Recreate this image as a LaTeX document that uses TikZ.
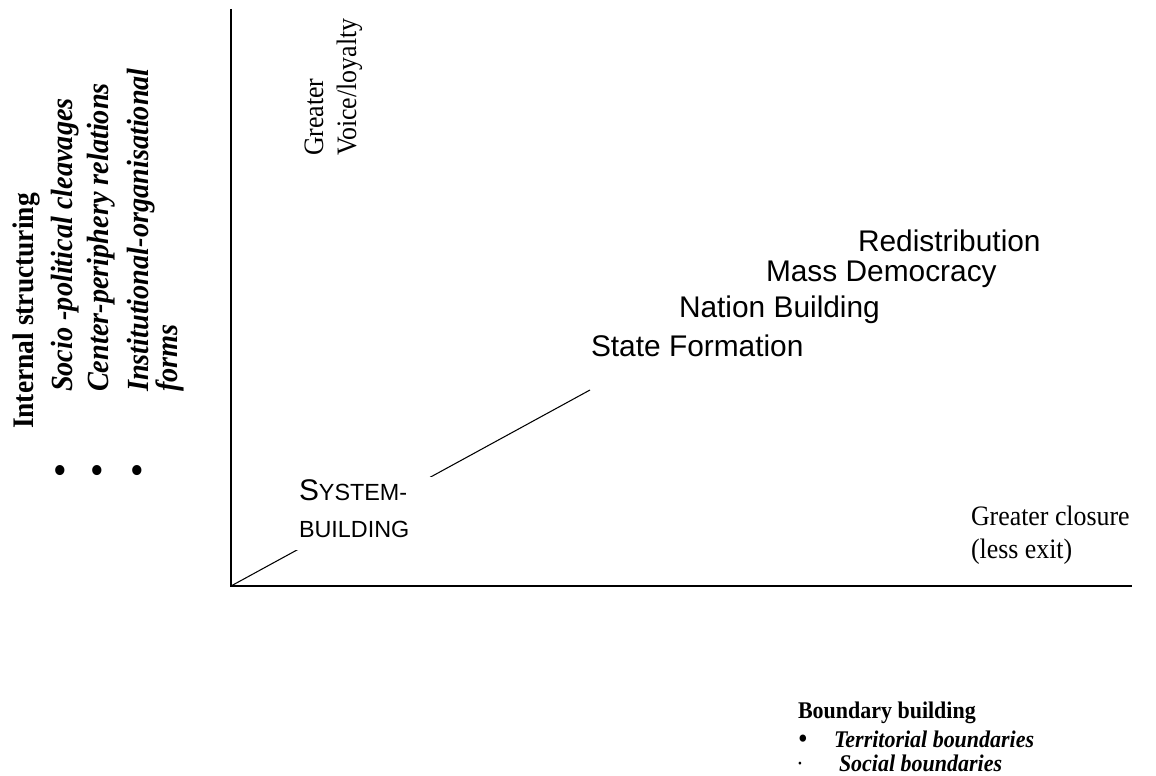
\documentclass[tikz,border=0pt]{standalone}
\usepackage{fontspec}
\setmainfont[FakeStretch=0.92]{Liberation Serif}
\setsansfont{Liberation Sans}
\usepackage{tikz}
\usetikzlibrary{calc}

\begin{document}
\begin{tikzpicture}[x=0.02cm,y=-0.02cm,line width=0.04cm]
%1 unit = 1 px of the page

   \tikzstyle{times}=[font=\fontsize{16}{22}\selectfont,inner sep=0pt,anchor=base west]
   \tikzstyle{vert}=[times,rotate=90]
   \tikzstyle{item}=[vert,font=\fontsize{17.5}{22}\selectfont]
   \tikzstyle{arial}=[font=\sffamily\fontsize{17}{21}\selectfont,inner sep=0pt,anchor=base west]
   \tikzstyle{small}=[font=\fontsize{13.6}{18}\selectfont,inner sep=0pt,anchor=base west]
   \tikzstyle{dot}=[font=\fontsize{24}{24}\selectfont,inner sep=0pt]
  \useasboundingbox (0,0) rectangle (1156,776);

  \coordinate (O) at (231,586);
  \coordinate (top) at (231,9);
  \coordinate (right) at (1132,586);
  \coordinate (E) at (590,390);

  \draw[line width=0.6pt] (O) -- (E);
  \draw (top) -- (O) -- (right);

  \node[fill=white,align=left,text width=2.64cm,inner xsep=0.16cm,inner ysep=0.06cm,
        text depth=0.92cm,anchor=north west,font=\sffamily\fontsize{17}{21}\selectfont]
        (sys) at (290,476) {S{\fontsize{13.3}{21}\selectfont YSTEM-}\\{\fontsize{13.3}{21}\selectfont BUILDING}};

  \node[arial] (state) at (590,357) {State Formation};
  \node[arial] (nation) at (678,318) {Nation Building};
  \node[arial] (mass) at (765,282) {Mass Democracy};
  \node[arial] (redis) at (857,252) {Redistribution};

  \node[vert] (greater) at (323,157) {Greater};
  \node[vert] (voice) at (356,157) {Voice/loyalty};

  \node[times] (closure) at (970,525) {Greater closure};
  \node[times] (exit) at (970,559) {(less exit)};

%left list
  \node[vert,font=\fontsize{17}{22}\selectfont] (intern) at (33,430) {\textbf{Internal structuring}};
  \node[dot] (b1) at (60,475) {\textbullet};
  \node[dot] (b2) at (97,475) {\textbullet};
  \node[dot] (b3) at (137,475) {\textbullet};
  \node[item] (socio) at (72,393) {\textbf{\textit{Socio -political cleavages}}};
  \node[item] (center) at (108,393) {\textbf{\textit{Center-periphery relations}}};
  \node[item] (instit) at (148,393) {\textbf{\textit{Institutional-organisational}}};
  \node[item] (forms) at (177,393) {\textbf{\textit{forms}}};

%bottom list
  \node[small] (bound) at (797,718) {\textbf{Boundary building}};
  \node[font=\fontsize{17}{17}\selectfont,inner sep=0pt] (b4) at (803,742) {\textbullet};
  \node[small] (terr) at (833,747) {\textbf{\textit{Territorial boundaries}}};
  \node[small,anchor=center] (b5) at (800,767) {\textperiodcentered};
  \node[small] (social) at (838,771) {\textbf{\textit{Social boundaries}}};

\end{tikzpicture}
\end{document}
